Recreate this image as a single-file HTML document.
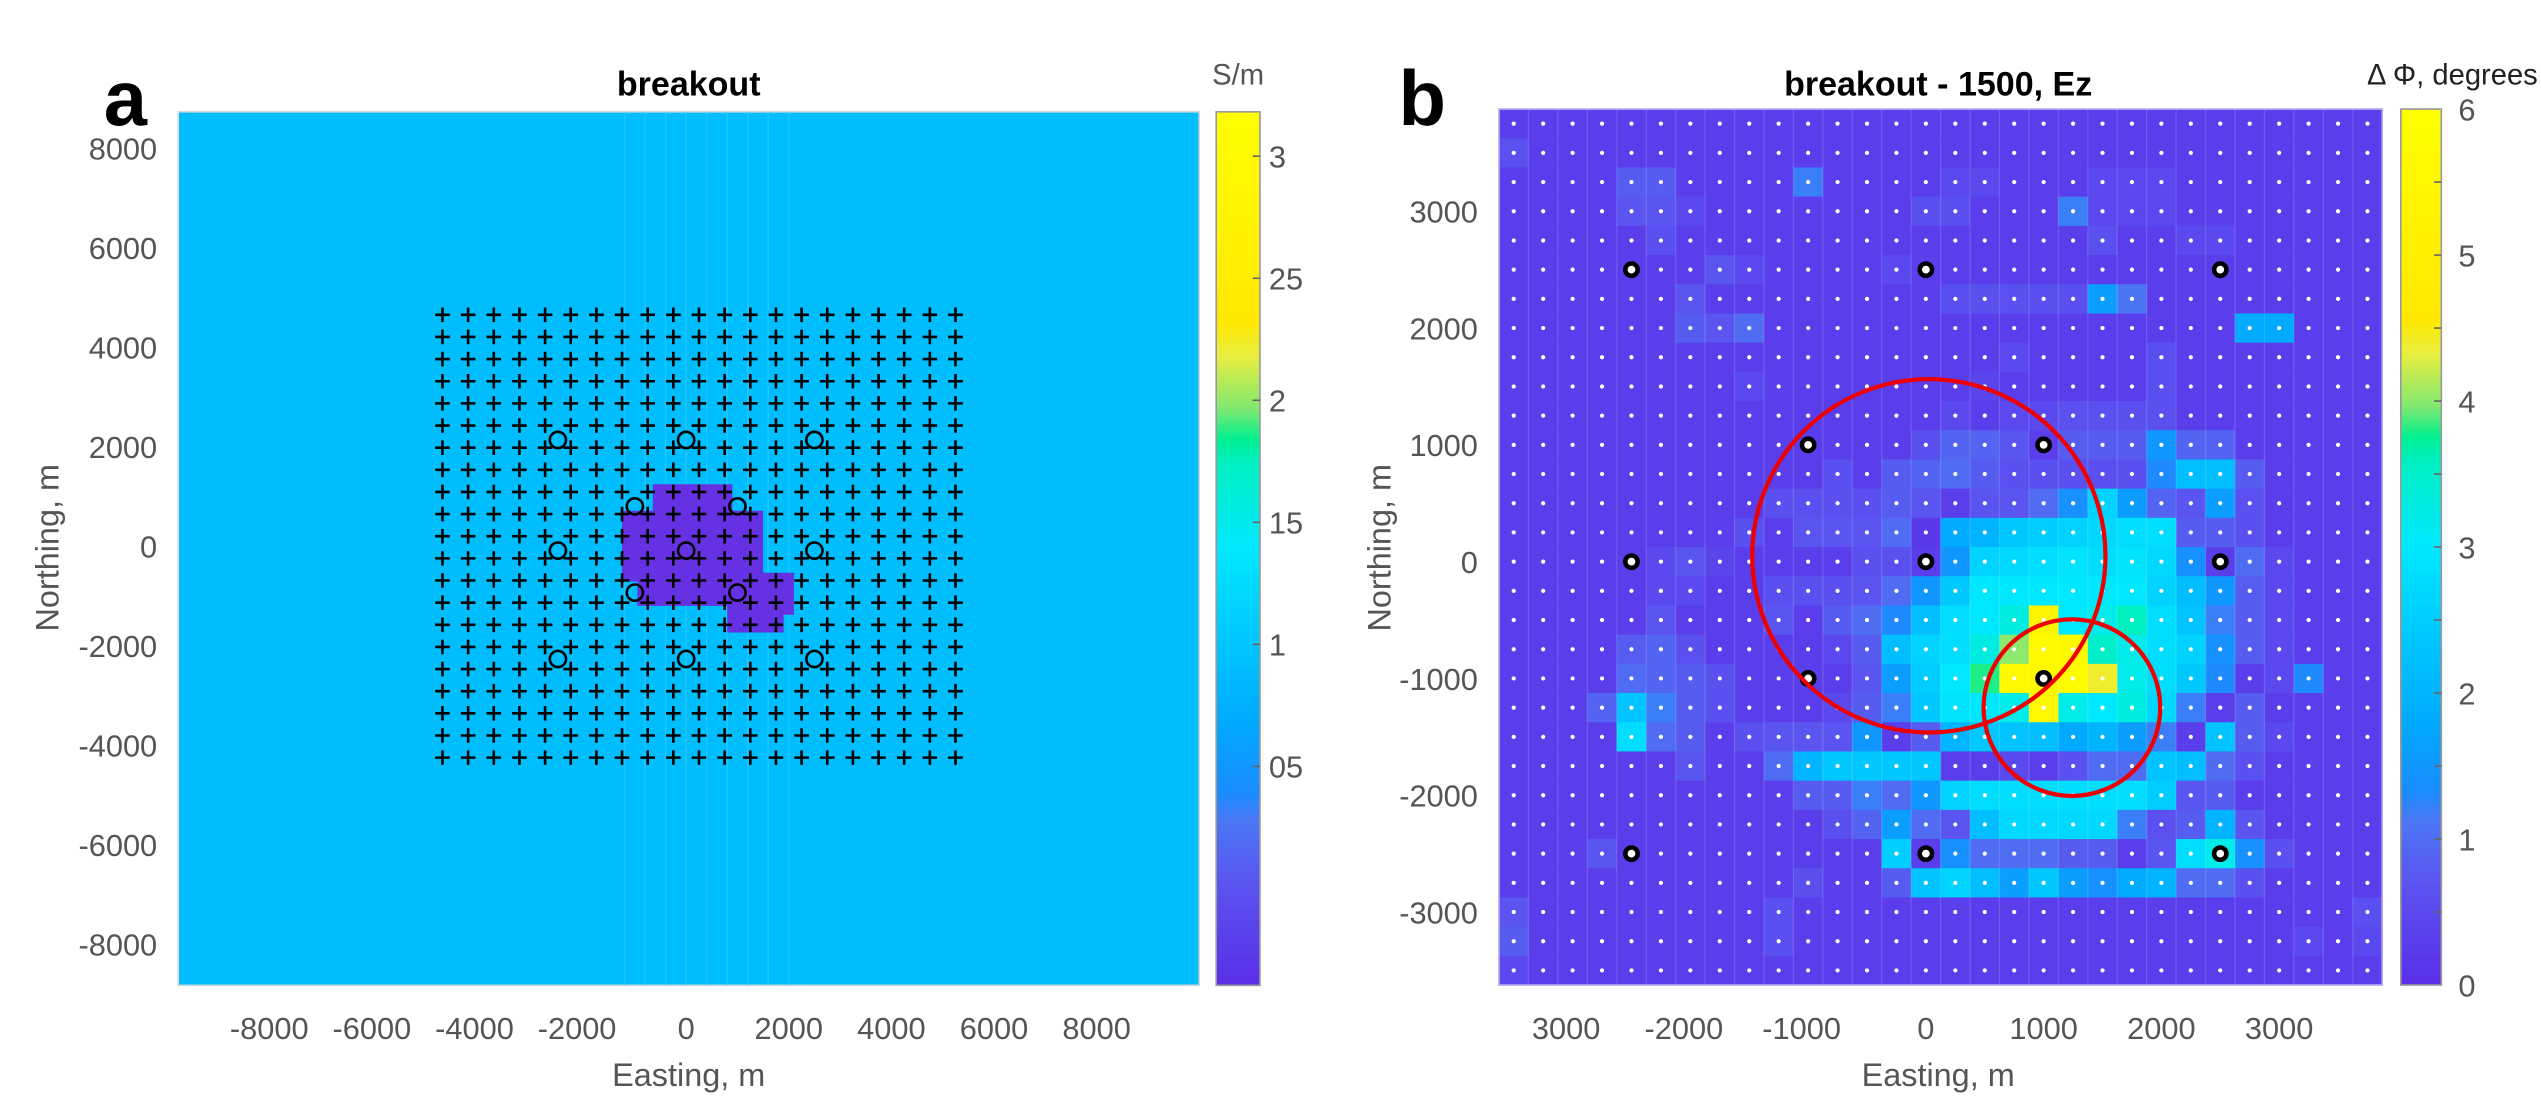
<!DOCTYPE html>
<html><head><meta charset="utf-8">
<style>
html,body{margin:0;padding:0;background:#fff;}
svg{display:block;font-family:"Liberation Sans",sans-serif;}
</style></head>
<body>
<svg id="fig" width="2541" height="1115" viewBox="0 0 1568 688" preserveAspectRatio="none" xmlns="http://www.w3.org/2000/svg">
<defs>
<linearGradient id="cmap" x1="0" y1="1" x2="0" y2="0">
<stop offset="0" stop-color="#5a2ee8"/><stop offset="0.12" stop-color="#5a55f0"/>
<stop offset="0.19" stop-color="#4a78f5"/><stop offset="0.22" stop-color="#1a8cff"/>
<stop offset="0.3" stop-color="#00aaff"/><stop offset="0.4" stop-color="#00c8ff"/>
<stop offset="0.5" stop-color="#00e8ff"/><stop offset="0.6" stop-color="#00f0c0"/>
<stop offset="0.625" stop-color="#00f090"/><stop offset="0.66" stop-color="#80e870"/>
<stop offset="0.72" stop-color="#e8ee40"/><stop offset="0.76" stop-color="#ffe800"/>
<stop offset="1" stop-color="#ffff00"/>
</linearGradient>
<clipPath id="clipB"><rect x="925" y="67.3" width="545" height="540.5"/></clipPath>
</defs>
<text x="64" y="77" font-size="48" font-weight="bold" fill="#000">a</text>
<text x="425" y="59" font-size="21" font-weight="bold" text-anchor="middle">breakout</text>
<text x="748" y="52" font-size="18" fill="#555">S/m</text>
<text x="863" y="77" font-size="48" font-weight="bold" fill="#000">b</text>
<text x="1196" y="59" font-size="21" font-weight="bold" text-anchor="middle">breakout - 1500, Ez</text>
<text x="1566" y="52" font-size="18" fill="#222" text-anchor="end">Δ  Φ, degrees</text>
<g id="gA"></g><g id="gB"></g>
</svg>
<script>
const NS="http://www.w3.org/2000/svg";
// ---- panel a data ----
const aXTicks=[-8000,-6000,-4000,-2000,0,2000,4000,6000,8000];
const aYTicks=[8000,6000,4000,2000,0,-2000,-4000,-6000,-8000];
const aCbLabels=["3","25","2","15","1","05"];
const aCbValues=[3,2.5,2,1.5,1,0.5];
const aReceiverX=[-4750,-4250,-3750,-3250,-2750,-2250,-1750,-1250,-750,-250,250,750,1250,1750,2250,2750,3250,3750,4250,4750,5250];
const aReceiverY=[4650,4205,3760,3315,2870,2425,1980,1535,1090,645,200,-245,-690,-1135,-1580,-2025,-2470,-2915,-3360,-3805,-4250];
const aSourceX=[-2500,0,2500,-1000,1000,-2500,0,2500,-1000,1000,-2500,0,2500];
const aSourceY=[2135,2135,2135,800,800,-89,-89,-89,-933,-933,-2267,-2267,-2267];
const aBodyX=[-650,900,900,1500,1500,2100,2100,1900,1900,800,800,-950,-950,-1250,-1250,-650];
const aBodyY=[1245,1245,711,711,-533,-533,-1378,-1378,-1734,-1734,-1200,-1200,-711,-711,711,711];
// ---- panel b data ----
const bXTicks=[-3000,-2000,-1000,0,1000,2000,3000];
const bXTickLabels=["3000","-2000","-1000","0","1000","2000","3000"];
const bYTicks=[3000,2000,1000,0,-1000,-2000,-3000];
const bCbTicks=[0,1,2,3,4,5,6];
const bCellX0=-3500, bCellY0=3750, bCell=250;
const bSourceX=[-2500,0,2500,-1000,1000,-2500,0,2500,-1000,1000,-2500,0,2500];
const bSourceY=[2500,2500,2500,1000,1000,0,0,0,-1000,-1000,-2500,-2500,-2500];
const bRingX=[25,1240];
const bRingY=[50,-1250];
const bRingR=[1500,750];
const bValues=[
[.3,.3,.3,.3,.3,.3,.3,.3,.3,.3,.3,.3,.3,.3,.3,.3,.3,.3,.3,.3,.3,.3,.3,.3,.3,.3,.3,.3,.3,.3],
[.6,.3,.3,.3,.3,.3,.3,.3,.3,.3,.3,.3,.3,.3,.3,.3,.3,.3,.3,.3,.3,.3,.3,.3,.3,.3,.3,.3,.3,.3],
[.3,.3,.3,.3,.8,.8,.3,.3,.3,.3,1.2,.3,.3,.3,.3,.5,.5,.3,.3,.3,.5,.5,.5,.3,.3,.3,.3,.3,.3,.3],
[.3,.3,.3,.3,.7,.7,.5,.3,.3,.3,.3,.3,.3,.3,.6,.6,.3,.3,.3,1.2,.5,.5,.5,.3,.3,.3,.3,.3,.3,.3],
[.3,.3,.3,.3,.3,.6,.3,.3,.3,.3,.3,.3,.3,.3,.3,.3,.3,.3,.3,.3,.6,.3,.3,.5,.5,.3,.3,.3,.3,.3],
[.3,.3,.3,.3,.3,.3,.3,.7,.5,.3,.3,.3,.3,.5,.3,.3,.3,.3,.3,.3,.3,.3,.3,.3,.3,.3,.3,.3,.3,.3],
[.3,.3,.3,.3,.3,.3,.7,.3,.3,.3,.3,.3,.3,.3,.3,.6,.6,.6,.6,.6,1.6,1.1,.3,.3,.3,.3,.3,.3,.3,.3],
[.3,.3,.3,.3,.3,.3,.8,.7,1.0,.3,.3,.3,.3,.3,.3,.3,.3,.3,.3,.3,.3,.3,.3,.3,.3,1.8,1.8,.3,.3,.3],
[.3,.3,.3,.3,.3,.3,.3,.3,.3,.3,.3,.3,.3,.3,.3,.3,.3,.5,.3,.3,.3,.3,.6,.3,.3,.3,.3,.3,.3,.3],
[.3,.3,.3,.3,.3,.3,.3,.3,.5,.3,.3,.3,.3,.3,.3,.3,.4,.3,.3,.3,.3,.3,.6,.3,.3,.3,.3,.3,.3,.3],
[.3,.3,.3,.3,.3,.3,.3,.3,.3,.3,.3,.3,.3,.3,.3,.5,.3,.5,.5,.6,.6,.6,.6,.3,.3,.3,.3,.3,.3,.3],
[.3,.3,.3,.3,.3,.3,.3,.3,.3,.3,.3,.3,.3,.3,.6,.9,.9,.7,.3,.8,.8,.8,1.5,.9,.9,.3,.3,.3,.3,.3],
[.3,.3,.3,.3,.3,.3,.3,.3,.3,.3,.3,.6,.3,.8,.9,1.0,.8,.6,.6,.6,.6,.6,1.3,2.2,2.2,.8,.3,.3,.3,.3],
[.3,.3,.3,.3,.3,.3,.3,.3,.3,.6,.6,.6,.6,.8,.7,.3,.7,.7,1.0,1.4,2.6,1.6,.9,.7,1.6,.6,.3,.3,.3,.3],
[.3,.3,.3,.3,.3,.3,.3,.3,.6,.3,.7,.7,.7,1.0,.2,1.8,2.0,2.4,2.5,2.6,2.7,2.8,2.8,.8,.8,.6,.3,.3,.3,.3],
[.3,.3,.3,.3,.3,.5,.7,.4,.3,.3,.3,.3,.6,.6,.3,1.5,2.6,2.7,2.8,2.9,2.8,2.9,2.7,1.4,.3,1.0,.5,.3,.3,.3],
[.3,.3,.3,.3,.3,.5,.5,.3,.3,.6,.6,.6,.7,1.0,1.5,2.4,3.0,3.0,3.0,3.0,3.0,3.0,2.6,2.2,1.5,.8,.5,.3,.3,.3],
[.3,.3,.3,.3,.3,.7,.3,.3,.3,.7,.3,.8,1.0,1.3,2.2,2.8,3.0,3.3,5.3,3.0,3.2,3.6,2.8,2.3,1.2,.8,.5,.3,.3,.3],
[.3,.3,.3,.3,.8,.9,.6,.3,.3,.3,.3,.5,.8,2.2,2.6,2.8,3.3,4.0,5.6,5.6,3.5,3.2,2.8,2.6,1.4,.8,.5,.3,.3,.3],
[.3,.3,.3,.3,1.0,.9,.8,.6,.3,.3,.3,.3,.7,1.6,2.5,3.0,3.8,5.6,5.6,5.8,4.4,3.2,2.8,2.4,1.3,.3,.5,1.3,.3,.3],
[.3,.3,.3,.9,2.3,1.2,.8,.6,.3,.3,.3,.5,.8,1.2,2.4,2.9,3.0,3.2,5.5,3.2,3.0,3.3,2.7,1.2,.3,.8,.3,.3,.3,.3],
[.3,.3,.3,.3,2.8,1.0,.8,.3,.6,.7,.7,.7,1.5,.3,.8,2.0,2.4,2.3,2.2,1.8,2.0,1.6,1.2,.3,2.3,.8,.5,.3,.3,.3],
[.3,.3,.3,.3,.3,.3,.7,.3,.3,1.0,2.0,2.4,2.4,2.4,2.4,.3,.3,.5,.3,.6,1.0,1.0,2.3,2.2,1.0,.6,.3,.3,.3,.3],
[.3,.3,.3,.3,.3,.3,.3,.3,.3,.3,.8,.8,1.2,1.0,1.5,2.6,2.8,2.8,2.8,2.8,2.8,2.8,2.5,.7,.8,.3,.3,.3,.3,.3],
[.3,.3,.3,.3,.3,.3,.3,.3,.3,.3,.3,.6,.9,1.6,1.0,.7,2.2,2.7,2.7,2.7,2.7,1.2,.6,.8,2.0,.7,.3,.3,.3,.3],
[.3,.3,.3,.7,.3,.3,.3,.3,.3,.3,.3,.3,.3,2.5,.3,1.4,1.0,1.0,1.0,.8,.8,.3,.7,2.8,3.2,1.4,.6,.3,.3,.3],
[.3,.3,.3,.3,.3,.3,.3,.3,.3,.3,.6,.3,.3,.8,2.3,2.6,2.2,1.6,2.4,1.6,1.4,1.8,2.0,1.0,1.0,.6,.3,.3,.3,.3],
[.7,.3,.3,.3,.3,.3,.3,.3,.3,.6,.3,.3,.3,.3,.3,.3,.3,.3,.3,.3,.3,.3,.3,.3,.3,.3,.3,.3,.3,.6],
[.8,.3,.3,.3,.3,.3,.3,.3,.3,.6,.3,.3,.3,.3,.3,.3,.3,.3,.3,.3,.3,.3,.3,.3,.3,.3,.3,.5,.3,.5],
[.5,.3,.3,.3,.3,.3,.3,.3,.3,.3,.3,.3,.3,.3,.3,.3,.3,.3,.3,.3,.3,.3,.3,.3,.3,.3,.3,.3,.3,.3]
];
// ---- helpers ----
function mk(tag,attrs,parent){const e=document.createElementNS(NS,tag);for(const k in attrs)e.setAttribute(k,attrs[k]);parent.appendChild(e);return e;}
const stops=[[0,[90,46,232]],[0.12,[90,85,240]],[0.19,[74,120,245]],[0.22,[26,140,255]],[0.3,[0,170,255]],[0.4,[0,200,255]],[0.5,[0,232,255]],[0.6,[0,240,192]],[0.625,[0,240,144]],[0.66,[128,232,112]],[0.72,[232,238,64]],[0.76,[255,232,0]],[1,[255,255,0]]];
function cmap(t){t=Math.max(0,Math.min(1,t));for(let i=1;i<stops.length;i++){if(t<=stops[i][0]){const a=stops[i-1],b=stops[i];const f=(t-a[0])/(b[0]-a[0]);const c=a[1].map((v,j)=>Math.round(v+(b[1][j]-v)*f));return `rgb(${c[0]},${c[1]},${c[2]})`;}}return "rgb(255,255,0)";}
const tickFont=19, grey="#555";

// ================= PANEL A =================
const gA=document.getElementById('gA');
const aL=110,aR=740,aT=69,aB=608;
const axMin=-9900,axMax=10000,ayMin=-8827,ayMax=8730;
const ax=v=>aL+(v-axMin)/(axMax-axMin)*(aR-aL);
const ay=v=>aB-(v-ayMin)/(ayMax-ayMin)*(aB-aT);
let bg=mk('rect',{x:aL,y:aT,width:aR-aL,height:aB-aT,fill:'#00befe',stroke:'#cfd8dc','stroke-width':1},gA);


[-1200,-800,-400,0,400,800,1200,1600,2000].forEach(v=>{const s=mk('line',{x1:ax(v),x2:ax(v),y1:aT,y2:aB,stroke:'#2fcaff','stroke-width':1,opacity:0.6},gA);

});
const body=mk('polygon',{points:aBodyX.map((x,i)=>ax(x)+','+ay(aBodyY[i])).join(' '),fill:'#6631e2'},gA);


aReceiverY.forEach(yv=>aReceiverX.forEach(xv=>{const cx=ax(xv),cy=ay(yv);
const p=mk('path',{d:`M${cx-4.5},${cy}H${cx+4.5}M${cx},${cy-4.5}V${cy+4.5}`,stroke:'#000','stroke-width':1.6},gA);

}));
aSourceX.forEach((xv,i)=>{const c=mk('circle',{cx:ax(xv),cy:ay(aSourceY[i]),r:5,fill:'none',stroke:'#000','stroke-width':1.6},gA);

});
aXTicks.forEach(v=>{const t=mk('text',{x:ax(v)-(v<0?4:0),y:641,'font-size':tickFont,fill:grey,'text-anchor':'middle'},gA);t.textContent=v;

});
aYTicks.forEach(v=>{const t=mk('text',{x:97,y:ay(v)+7,'font-size':tickFont,fill:grey,'text-anchor':'end'},gA);t.textContent=v;

});
let t1=mk('text',{x:425,y:670,'font-size':20,fill:grey,'text-anchor':'middle'},gA);t1.textContent='Easting, m';


let t2=mk('text',{x:0,y:0,'font-size':20,fill:grey,'text-anchor':'middle',transform:'translate(36,338) rotate(-90)'},gA);t2.textContent='Northing, m';


const cbA=mk('rect',{x:750.5,y:aT,width:27,height:aB-aT,fill:'url(#cmap)',stroke:'#999','stroke-width':1},gA);


const cbAy=v=>247+(2-v)*150.6;
aCbValues.forEach((v,i)=>{const y=cbAy(v);
mk('line',{x1:773,x2:777.5,y1:y,y2:y,stroke:'#666','stroke-width':1},gA);
const t=mk('text',{x:783,y:y+7,'font-size':tickFont,fill:grey},gA);t.textContent=aCbLabels[i];

});

// ================= PANEL B =================
const gB=document.getElementById('gB');
const bL=925,bR=1470,bT=67.3,bBt=607.8;
const bxMin=-3625,bxMax=3875,byMin=-3625,byMax=3875;
const bx=v=>bL+(v-bxMin)/(bxMax-bxMin)*(bR-bL);
const by=v=>bBt-(v-byMin)/(byMax-byMin)*(bBt-bT);
const cw=bx(bCell)-bx(0), ch=by(0)-by(bCell);
bValues.forEach((row,r)=>row.forEach((v,c)=>{const xc=bCellX0+c*bCell, yc=bCellY0-r*bCell;
const rc=mk('rect',{x:bx(xc)-cw/2,y:by(yc)-ch/2,width:cw+0.3,height:ch+0.3,fill:cmap(v/6)},gB);

}));
for(let c=1;c<30;c++){const x=bL+c*cw;const l=mk('line',{x1:x,x2:x,y1:bT,y2:bBt,stroke:'#ffffff','stroke-opacity':0.14,'stroke-width':0.8},gB);

}
bValues.forEach((row,r)=>row.forEach((v,c)=>{const d=mk('circle',{cx:bx(bCellX0+c*bCell),cy:by(bCellY0-r*bCell),r:1.3,fill:'#fff'},gB);

}));
const frame=mk('rect',{x:bL,y:bT,width:bR-bL,height:bBt-bT,fill:'none',stroke:'#b9a8f0','stroke-width':1},gB);


bSourceX.forEach((xv,i)=>{const c=mk('circle',{cx:bx(xv),cy:by(bSourceY[i]),r:3.8,fill:'#fff',stroke:'#000','stroke-width':2.8},gB);

});
const gR=mk('g',{'clip-path':'url(#clipB)'},gB);
bRingX.forEach((xv,i)=>{const r=bx(bRingR[i])-bx(0);const c=mk('circle',{cx:bx(xv),cy:by(bRingY[i]),r:r,fill:'none',stroke:'#ee0000','stroke-width':2.6},gR);

});
bXTicks.forEach((v,i)=>{const t=mk('text',{x:bx(v)-(v<0?4:0),y:641,'font-size':tickFont,fill:grey,'text-anchor':'middle'},gB);t.textContent=bXTickLabels[i];

});
bYTicks.forEach(v=>{const t=mk('text',{x:912,y:by(v)+7,'font-size':tickFont,fill:grey,'text-anchor':'end'},gB);t.textContent=v;

});
let t3=mk('text',{x:1196,y:670,'font-size':20,fill:grey,'text-anchor':'middle'},gB);t3.textContent='Easting, m';


let t4=mk('text',{x:0,y:0,'font-size':20,fill:grey,'text-anchor':'middle',transform:'translate(858,338) rotate(-90)'},gB);t4.textContent='Northing, m';


const cbB=mk('rect',{x:1481.5,y:bT,width:25,height:bBt-bT,fill:'url(#cmap)',stroke:'#999','stroke-width':1},gB);


const cby=v=>bBt-v/6*(bBt-bT);
for(let v=0.5;v<6;v+=0.5){mk('line',{x1:1502,x2:1506.5,y1:cby(v),y2:cby(v),stroke:'#666','stroke-width':1},gB);}
bCbTicks.forEach(v=>{const t=mk('text',{x:1517,y:cby(v)+7,'font-size':tickFont,fill:grey},gB);t.textContent=v;

});
</script>
</body></html>
